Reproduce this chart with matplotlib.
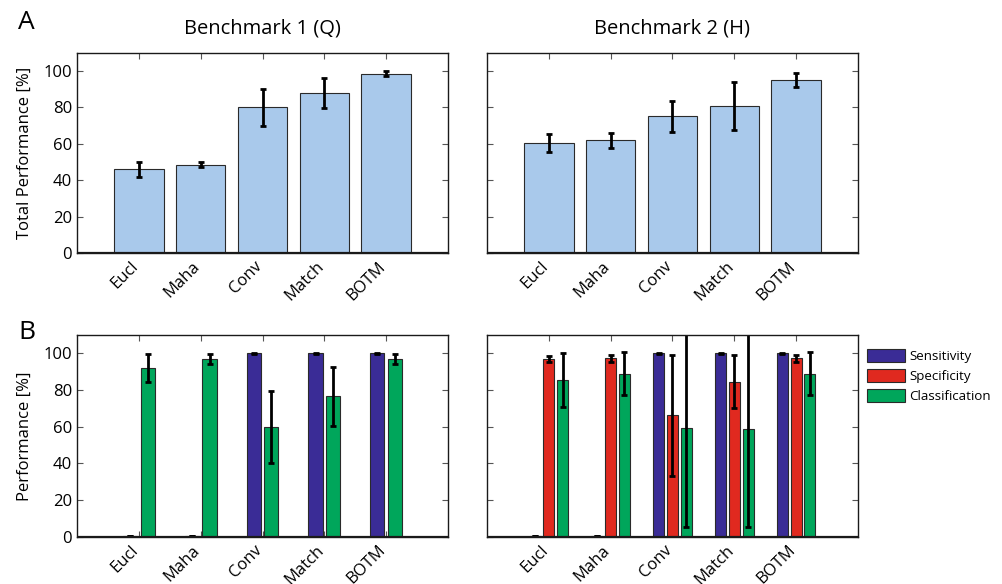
import matplotlib
matplotlib.use("Agg")
import matplotlib.pyplot as plt
from matplotlib.patches import Patch
import numpy as np

plt.rcParams['font.family'] = ['Open Sans', 'DejaVu Sans']

methods = ["Eucl", "Maha", "Conv", "Match", "BOTM"]

# Panel A: total performance per benchmark (mean, error)
total_q = [46.0, 48.5, 80.0, 88.0, 98.4]
total_q_err = [4.2, 1.5, 10.0, 8.2, 1.3]
total_h = [60.5, 62.0, 75.0, 80.7, 95.0]
total_h_err = [5.0, 4.1, 8.5, 13.2, 4.0]

# Panel B: sensitivity / specificity / classification
sens_q = [0.4, 0.4, 100.0, 100.0, 100.0]
sens_q_err = [0.2, 0.2, 0.3, 0.3, 0.3]
class_q = [92.0, 97.0, 60.0, 76.5, 97.0]
class_q_err = [7.8, 2.6, 19.6, 16.0, 2.6]

sens_h = [0.4, 0.4, 100.0, 100.0, 100.0]
sens_h_err = [0.2, 0.2, 0.3, 0.3, 0.3]
spec_h = [96.7, 97.2, 66.2, 84.6, 97.2]
spec_h_err = [1.7, 2.0, 33.0, 14.6, 2.0]
class_h = [85.5, 88.8, 59.2, 58.7, 88.8]
class_h_err = [14.7, 11.8, 53.9, 53.4, 11.8]

series_labels = ["Sensitivity", "Specificity", "Classification"]

C_TOTAL = "#a9c9eb"
C_SENS = "#3a2c96"
C_SPEC = "#e0291f"
C_CLASS = "#00a65b"
EDGE = "#2a2a2a"

err_kw = dict(ecolor="black", elinewidth=2.0, capsize=2.2, capthick=2.0)

fig = plt.figure(figsize=(10.03, 5.84), dpi=100)

W = 0.3699
ax_tl = fig.add_axes([0.0768, 0.5668, W, 0.3430])
ax_tr = fig.add_axes([0.4855, 0.5668, W, 0.3430])
ax_bl = fig.add_axes([0.0768, 0.0810, W, 0.3454])
ax_br = fig.add_axes([0.4855, 0.0810, W, 0.3454])

x = np.arange(1, len(methods) + 1)


def style(ax):
    ax.set_xlim(0, 6)
    ax.set_ylim(0, 110)
    ax.set_xticks(x)
    ax.set_xticklabels(methods, rotation=45, ha="right", va="center",
                       rotation_mode="anchor", fontsize=12)
    ax.set_yticks([0, 20, 40, 60, 80, 100])
    ax.tick_params(direction="in", length=4, width=0.8, top=True, right=True,
                   labelsize=12, color="#555555")
    ax.tick_params(axis="x", pad=8)
    for s in ax.spines.values():
        s.set_linewidth(1.0)
        s.set_color("#1a1a1a")
    ax.axhline(0, color="#1a1a1a", lw=1.6, zorder=5)
    # nudge rotated tick labels slightly to the left
    offset = matplotlib.transforms.ScaledTranslation(-3 / 100, 0, fig.dpi_scale_trans)
    for lab in ax.get_xticklabels():
        lab.set_transform(lab.get_transform() + offset)


for ax, vals, errs in [(ax_tl, total_q, total_q_err), (ax_tr, total_h, total_h_err)]:
    ax.bar(x, vals, width=0.8, color=C_TOTAL, edgecolor=EDGE, linewidth=0.8,
           yerr=errs, error_kw=err_kw, zorder=2)
    style(ax)

# Benchmark 1: two series per group
gw2 = 2 / 3.5
off2 = gw2 / 4
bw2 = gw2 / 2 * 0.8
ax_bl.bar(x - off2, sens_q, width=bw2, color=C_SENS, edgecolor=EDGE, linewidth=0.8,
          yerr=sens_q_err, error_kw=err_kw, zorder=2)
ax_bl.bar(x + off2, class_q, width=bw2, color=C_CLASS, edgecolor=EDGE, linewidth=0.8,
          yerr=class_q_err, error_kw=err_kw, zorder=2)
style(ax_bl)

# Benchmark 2: three series per group
gw3 = 3 / 4.5
off3 = gw3 / 3
bw3 = gw3 / 3 * 0.8
ax_br.bar(x - off3, sens_h, width=bw3, color=C_SENS, edgecolor=EDGE, linewidth=0.8,
          yerr=sens_h_err, error_kw=err_kw, zorder=2)
ax_br.bar(x, spec_h, width=bw3, color=C_SPEC, edgecolor=EDGE, linewidth=0.8,
          yerr=spec_h_err, error_kw=err_kw, zorder=2)
ax_br.bar(x + off3, class_h, width=bw3, color=C_CLASS, edgecolor=EDGE, linewidth=0.8,
          yerr=class_h_err, error_kw=err_kw, zorder=2)
style(ax_br)

for ax in (ax_tr, ax_br):
    ax.set_yticklabels([])

ax_tl.set_ylabel("Total Performance [%]", fontsize=12, labelpad=8)
ax_bl.set_ylabel("Performance [%]", fontsize=12, labelpad=8)

ax_tl.set_title("Benchmark 1 (Q)", fontsize=14.5, pad=14)
ax_tr.set_title("Benchmark 2 (H)", fontsize=14.5, pad=14)

fig.text(0.018, 0.961, "A", fontsize=19, va="center", ha="left")
fig.text(0.018, 0.431, "B", fontsize=19, va="center", ha="left")

handles = [Patch(facecolor=c, edgecolor=EDGE, linewidth=0.8)
           for c in (C_SENS, C_SPEC, C_CLASS)]
ax_br.legend(handles, series_labels, loc="upper left",
             bbox_to_anchor=(1.0, 0.975), frameon=False, fontsize=9.6,
             handlelength=2.8, handleheight=1.1, handletextpad=0.35,
             labelspacing=0.45, borderaxespad=0.3)

fig.savefig("out.png", dpi=100)
